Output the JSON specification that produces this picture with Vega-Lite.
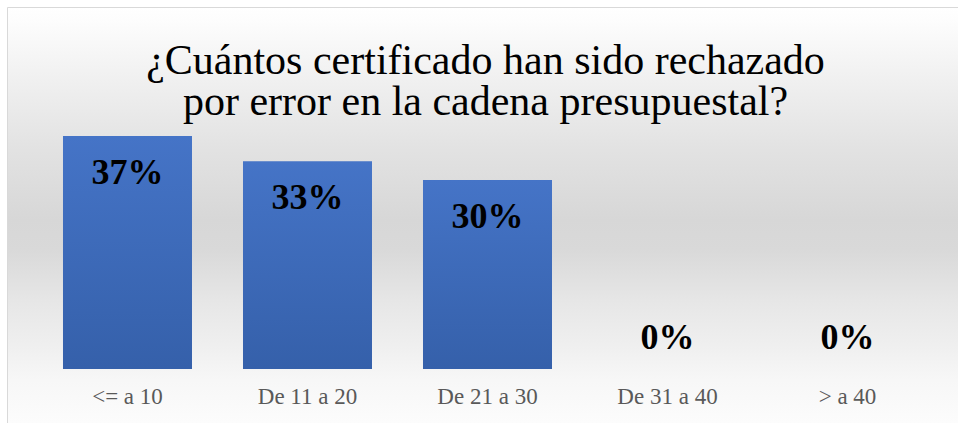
{
  "$schema": "https://vega.github.io/schema/vega-lite/v6.json",
  "width": 951,
  "height": 416,
  "autosize": {"type": "none"},
  "padding": {"left": 7, "top": 7, "right": 0, "bottom": 0},
  "background": "#ffffff",
  "config": {
    "view": {
      "stroke": null,
      "fill": {
        "gradient": "linear", "x1": 0, "y1": 0, "x2": 0, "y2": 1,
        "stops": [
          {"offset": 0, "color": "#ffffff"},
          {"offset": 0.03, "color": "#fdfdfd"},
          {"offset": 0.175, "color": "#f0f0f0"},
          {"offset": 0.344, "color": "#e2e2e2"},
          {"offset": 0.512, "color": "#d7d7d7"},
          {"offset": 0.584, "color": "#d9d9d9"},
          {"offset": 0.704, "color": "#e6e6e6"},
          {"offset": 0.824, "color": "#f0f0f0"},
          {"offset": 0.897, "color": "#f7f7f7"},
          {"offset": 1, "color": "#fcfcfc"}
        ]
      }
    },
    "font": "Liberation Serif",
    "title": {"font": "Liberation Serif, Times New Roman, serif", "fontWeight": "normal"}
  },
  "title": {
    "text": ["¿Cuántos certificado han sido rechazado", "por error en la cadena presupuestal?"],
    "font": "Liberation Serif, Times New Roman, serif",
    "fontSize": 42,
    "fontWeight": "normal",
    "color": "#000000",
    "lineHeight": 41,
    "anchor": "middle",
    "baseline": "alphabetic",
    "offset": -150,
    "dx": 3
  },
  "data": {
    "values": [
      {"cat": "<= a 10", "v": 0.37},
      {"cat": "De 11 a 20", "v": 0.33},
      {"cat": "De 21 a 30", "v": 0.30},
      {"cat": "De 31 a 40", "v": 0},
      {"cat": ">  a 40", "v": 0}
    ]
  },
  "encoding": {
    "x": {
      "field": "cat", "type": "nominal", "sort": null,
      "scale": {"paddingInner": 0.2833, "paddingOuter": 0.2833, "align": 0.549},
      "axis": {"orient": "top", "labels": false, "ticks": false, "title": null, "domain": true, "domainColor": "#d9d9d9", "domainWidth": 1}
    }
  },
  "layer": [
    {
      "mark": {
        "type": "bar",
        "color": {
          "gradient": "linear", "x1": 0, "y1": 0, "x2": 0, "y2": 1,
          "stops": [
            {"offset": 0, "color": "#4574c7"},
            {"offset": 1, "color": "#3560aa"}
          ]
        }
      },
      "encoding": {
        "y": {
          "field": "v", "type": "quantitative",
          "scale": {"domain": [-0.08575, 0.57485], "nice": false, "zero": false},
          "axis": {"orient": "left", "labels": false, "ticks": false, "grid": false, "title": null, "domain": true, "domainColor": "#d9d9d9", "domainWidth": 1}
        },
        "y2": {"datum": 0}
      }
    },
    {
      "transform": [{"filter": "datum.v > 0"}],
      "mark": {"type": "text", "baseline": "alphabetic", "dy": 48, "fontSize": 36, "fontWeight": "bold", "font": "Liberation Serif", "color": "#000000"},
      "encoding": {
        "y": {"field": "v", "type": "quantitative"},
        "text": {"field": "v", "type": "quantitative", "format": ".0%"}
      }
    },
    {
      "transform": [{"filter": "datum.v == 0"}],
      "mark": {"type": "text", "baseline": "alphabetic", "dy": -20, "fontSize": 36, "fontWeight": "bold", "font": "Liberation Serif", "color": "#000000"},
      "encoding": {
        "y": {"field": "v", "type": "quantitative"},
        "text": {"field": "v", "type": "quantitative", "format": ".0%"}
      }
    },
    {
      "mark": {"type": "text", "baseline": "alphabetic", "fontSize": 23, "font": "Liberation Serif", "color": "#595959"},
      "encoding": {
        "y": {"datum": -0.05558, "type": "quantitative"},
        "text": {"field": "cat", "type": "nominal"}
      }
    }
  ]
}
